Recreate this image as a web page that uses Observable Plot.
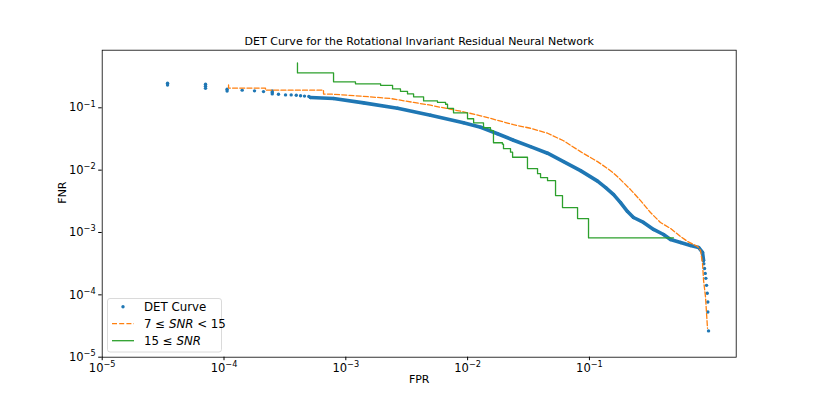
<!DOCTYPE html>
<html><head><meta charset="utf-8">
<script src="https://cdn.jsdelivr.net/npm/d3@7"></script>
<script src="https://cdn.jsdelivr.net/npm/@observablehq/plot@0.6"></script>
<style>body{margin:0;background:#fff} svg{font-family:"DejaVu Sans"}</style>
</head><body><div id="chart"></div>
<script>
// ---- data ----
const titleText = "DET Curve for the Rotational Invariant Residual Neural Network";
const xLabel = "FPR";
const yLabel = "FNR";
const xTicks = [1e-5, 1e-4, 1e-3, 1e-2, 1e-1];
const yTicks = [1e-5, 1e-4, 1e-3, 1e-2, 1e-1];
const tickLabels = ["10⁻⁵", "10⁻⁴", "10⁻³", "10⁻²", "10⁻¹"];
const tickExps = ["−5", "−4", "−3", "−2", "−1"];
const seriesNames = ["DET Curve", "7 ≤ SNR < 15", "15 ≤ SNR"];

// DET curve (all SNR): sparse points, dense band, tail points
const detSparseFpr = [3.44e-5, 3.44e-5, 7.05e-5, 7.05e-5, 7.05e-5, 1.06e-4, 1.06e-4, 1.41e-4, 1.78e-4, 2.11e-4, 2.49e-4, 2.49e-4, 2.49e-4, 2.80e-4, 3.20e-4, 3.56e-4, 3.92e-4, 4.25e-4, 4.58e-4, 4.97e-4];
const detSparseFnr = [0.248, 0.232, 0.238, 0.221, 0.205, 0.198, 0.186, 0.192, 0.187, 0.182, 0.186, 0.176, 0.167, 0.165, 0.161, 0.161, 0.159, 0.156, 0.154, 0.152];
const detBandFpr = [5.13e-4, 7.93e-4, 1.40e-3, 2.66e-3, 4.96e-3, 9.25e-3, 0.0128, 0.0176, 0.0238, 0.0328, 0.0453, 0.0613, 0.0845, 0.1166, 0.136, 0.158, 0.180, 0.2055, 0.230, 0.278, 0.336, 0.406, 0.463, 0.560, 0.676, 0.787, 0.848, 0.865];
const detBandFnr = [0.146, 0.141, 0.120, 0.0982, 0.0759, 0.0575, 0.0488, 0.0384, 0.0302, 0.0238, 0.0187, 0.0137, 0.00982, 0.00667, 0.00525, 0.00406, 0.00302, 0.00217, 0.00174, 0.00145, 0.00112, 0.000929, 0.000773, 0.000692, 0.000619, 0.000575, 0.000479, 0.000356];
const detTailFpr = [0.869, 0.881, 0.893, 0.903, 0.915, 0.927, 0.938, 0.938, 0.950];
const detTailFnr = [3.15e-4, 2.65e-4, 2.21e-4, 1.84e-4, 1.42e-4, 1.06e-4, 7.67e-5, 5.31e-5, 2.64e-5];

// 7 <= SNR < 15
const midFpr = [1.09e-4, 1.09e-4, 2.19e-4, 2.19e-4, 6.56e-4, 6.56e-4, 7.49e-4, 1.32e-3, 2.33e-3, 3.60e-3, 4.96e-3, 5.99e-3, 9.25e-3, 0.0128, 0.0176, 0.0238, 0.0328, 0.0453, 0.0613, 0.0845, 0.1166, 0.141, 0.158, 0.180, 0.2175, 0.263, 0.317, 0.383, 0.463, 0.560, 0.639, 0.772, 0.817, 0.833, 0.848, 0.865, 0.898, 0.915, 0.932];
const midFnr = [0.233, 0.207, 0.207, 0.192, 0.192, 0.166, 0.166, 0.154, 0.141, 0.122, 0.110, 0.102, 0.0863, 0.0745, 0.0631, 0.0535, 0.0470, 0.0391, 0.0296, 0.0198, 0.0137, 0.0106, 0.00895, 0.00705, 0.00488, 0.00325, 0.00209, 0.00145, 0.00116, 0.000863, 0.000718, 0.000597, 0.000515, 0.000398, 0.000319, 0.000171, 9.12e-5, 5.06e-5, 2.91e-5];

// 15 <= SNR (step curve)
const highFpr = [4.01e-4, 4.01e-4, 7.93e-4, 1.20e-3, 1.93e-3, 2.42e-3, 2.81e-3, 3.21e-3, 3.60e-3, 4.35e-3, 5.66e-3, 6.59e-3, 6.84e-3, 7.66e-3, 9.98e-3, 0.0112, 0.0135, 0.0154, 0.0163, 0.0193, 0.0197, 0.0225, 0.0234, 0.0310, 0.0375, 0.0397, 0.0453, 0.0527, 0.0601, 0.0799, 0.0983, 0.490];
const highFnr = [0.525, 0.363, 0.261, 0.242, 0.229, 0.201, 0.184, 0.167, 0.150, 0.129, 0.122, 0.114, 0.0982, 0.0832, 0.0667, 0.0575, 0.0479, 0.0429, 0.0275, 0.0261, 0.0221, 0.0194, 0.0161, 0.0106, 0.00879, 0.00759, 0.00679, 0.00391, 0.00251, 0.00167, 0.000817, 0.000817];

const colors = ["#1f77b4", "#ff7f0e", "#2ca02c"];

// ---- build tables ----
const zip = (xs, ys) => xs.map((x, i) => ({x, y: ys[i]}));
const detBand = zip(detBandFpr, detBandFnr);
const detDots = [...zip(detSparseFpr, detSparseFnr), ...detBand, ...zip(detTailFpr, detTailFnr)];
const mid = zip(midFpr, midFnr);
const high = zip(highFpr, highFnr);

const fmt = (ticks) => (d) => tickLabels[ticks.indexOf(d)];

const chart = Plot.plot({
  width: 817, height: 409,
  marginLeft: 101.7, marginRight: 81.3, marginTop: 49.7, marginBottom: 52.3,
  style: {fontFamily: "DejaVu Sans", fontSize: "11px", color: "black", background: "white"},
  x: {type: "log", domain: [1e-5, 1.603]},
  y: {type: "log", domain: [1e-5, 0.839]},
  marks: [
    Plot.axisX({ticks: xTicks, tickFormat: fmt(xTicks), tickSize: 3.5, tickPadding: 3, label: null, fontSize: 11.5}),
    Plot.axisY({ticks: yTicks, tickFormat: fmt(yTicks), tickSize: 3.5, tickPadding: 3, label: null, fontSize: 11.5}),
    Plot.line(detBand, {x: "x", y: "y", stroke: colors[0], strokeWidth: 3.6, strokeLinejoin: "round", strokeLinecap: "round"}),
    Plot.dot(detDots, {x: "x", y: "y", r: 1.7, fill: colors[0]}),
    Plot.line(mid, {x: "x", y: "y", stroke: colors[1], strokeWidth: 1.3, strokeDasharray: "5,2.2"}),
    Plot.line(high, {x: "x", y: "y", stroke: colors[2], strokeWidth: 1.3, curve: "step-after"}),
    Plot.frame({stroke: "black", strokeWidth: 0.8}),
    Plot.text([titleText], {text: d => d, frameAnchor: "top", dy: -5, lineAnchor: "bottom", fontSize: 11}),
    Plot.text([xLabel], {text: d => d, frameAnchor: "bottom", dy: 25.5, fontSize: 11}),
    Plot.text([yLabel], {text: d => d, frameAnchor: "left", dx: -40, rotate: -90, fontSize: 11})
  ]
});
document.getElementById("chart").appendChild(chart);

const svg = d3.select(chart);

// mathtext-like tick labels: "10" with a raised, smaller exponent
svg.selectAll('g[aria-label="x-axis tick label"] text, g[aria-label="y-axis tick label"] text').each(function () {
  const i = tickLabels.indexOf(this.textContent);
  if (i < 0) return;
  const t = d3.select(this);
  t.text(null);
  t.append("tspan").text("10");
  t.append("tspan").attr("font-size", 8.2).attr("dy", -4.8).text(tickExps[i]);
});

// ---- legend ----
const lg = svg.append("g").attr("font-family", "DejaVu Sans").attr("font-size", 11.8).attr("text-anchor", "start");
lg.append("rect").attr("x", 107.5).attr("y", 298.5).attr("width", 114).attr("height", 53.5)
  .attr("rx", 2.5).attr("fill", "white").attr("fill-opacity", 0.8).attr("stroke", "#d0d0d0").attr("stroke-width", 0.8);
const rows = [306.7, 323.7, 340.7];
lg.append("circle").attr("cx", 123).attr("cy", rows[0]).attr("r", 1.7).attr("fill", colors[0]);
lg.append("line").attr("x1", 112).attr("x2", 134).attr("y1", rows[1]).attr("y2", rows[1])
  .attr("stroke", colors[1]).attr("stroke-width", 1.3).attr("stroke-dasharray", "5,2.2");
lg.append("line").attr("x1", 112).attr("x2", 134).attr("y1", rows[2]).attr("y2", rows[2])
  .attr("stroke", colors[2]).attr("stroke-width", 1.3);
lg.append("text").attr("x", 144).attr("y", rows[0]).attr("dy", "0.35em").text(seriesNames[0]);
const t1 = lg.append("text").attr("x", 144).attr("y", rows[1]).attr("dy", "0.35em");
t1.append("tspan").text("7 ≤ ");
t1.append("tspan").attr("font-style", "italic").text("SNR");
t1.append("tspan").text(" < 15");
const t2 = lg.append("text").attr("x", 144).attr("y", rows[2]).attr("dy", "0.35em");
t2.append("tspan").text("15 ≤ ");
t2.append("tspan").attr("font-style", "italic").text("SNR");
</script>
</body></html>
